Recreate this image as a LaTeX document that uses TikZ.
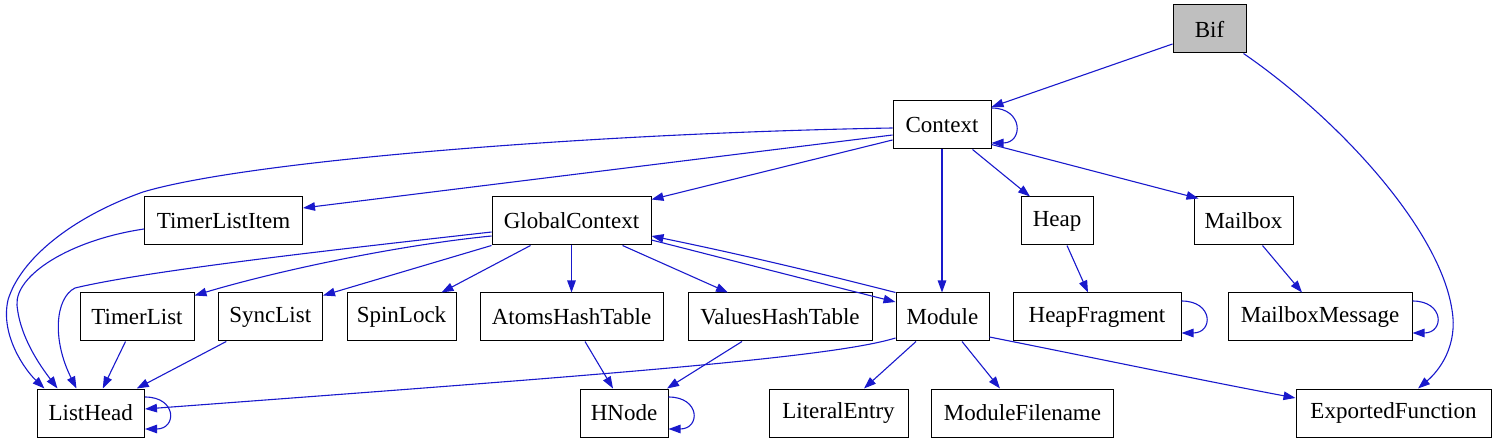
\documentclass[tikz,border=0pt]{standalone}
\usepackage{fontspec}
\setmainfont{Liberation Serif}
\usetikzlibrary{arrows.meta}
\definecolor{edgeblue}{RGB}{25,25,204}
\definecolor{bifgray}{RGB}{191,191,191}
\begin{document}
\begin{tikzpicture}[x=1pt,y=-1pt,
  box/.style={draw, line width=1pt, minimum height=48pt, inner sep=0pt, font=\fontsize{23}{27}\selectfont},
  edge/.style={draw=edgeblue, line width=1.1pt, -{Triangle[length=12pt,width=8.5pt]}},
  loopedge/.style={edge}
]
\useasboundingbox (0,0) rectangle (1496,443);
% nodes
\node[box, fill=bifgray, minimum width=73pt] (bif) at (1209.5,29) {Bif};
\node[box, minimum width=98pt] (ctx) at (942,125) {Context};
\node[box, minimum width=158pt] (tli) at (223.5,221) {TimerListItem};
\node[box, minimum width=159pt] (gc) at (571.5,221) {GlobalContext};
\node[box, minimum width=72pt] (heap) at (1057,221) {Heap};
\node[box, minimum width=99pt] (mb) at (1243.5,221) {Mailbox};
\node[box, minimum width=114pt] (tl) at (137,317) {TimerList};
\node[box, minimum width=104.5pt] (sl) at (270.25,317) {SyncList};
\node[box, minimum width=109pt] (spin) at (401.5,317) {SpinLock};
\node[box, minimum width=183pt] (aht) at (571.5,317) {AtomsHashTable};
\node[box, minimum width=184pt] (vht) at (780,317) {ValuesHashTable};
\node[box, minimum width=93pt] (mod) at (942.5,317) {Module};
\node[box, minimum width=168pt] (hf) at (1097,317) {HeapFragment};
\node[box, minimum width=184pt] (mm) at (1320,317) {MailboxMessage};
\node[box, minimum width=107.5pt] (lh) at (90.75,413) {ListHead};
\node[box, minimum width=88pt] (hn) at (624,413) {HNode};
\node[box, minimum width=139pt] (le) at (838.5,413) {LiteralEntry};
\node[box, minimum width=182pt] (mf) at (1022.5,413) {ModuleFilename};
\node[box, minimum width=195pt] (ef) at (1393.5,413) {ExportedFunction};
% edges from Bif
\draw[edge] ([yshift=-15pt]bif.west) -- ([yshift=18pt]ctx.east);
\draw[edge] ([xshift=-3pt]bif.south east) .. controls (1340,120) and (1440,230) .. (1452,310)
  .. controls (1458,345) and (1440,370) .. ([xshift=24.5pt]ef.north);
% edges from Context
\draw[edge] ([yshift=17pt]ctx.east) .. controls +(32,0) and +(32,0) .. ([yshift=-18pt]ctx.east);
\draw[edge] ([yshift=-3pt]ctx.west) .. controls (600,133) and (250,160) .. (143,192)
  .. controls (70,218) and (20,260) .. (8,300) .. controls (0,335) and (25,370) .. ([xshift=8pt]lh.north west);
\draw[edge] ([yshift=-10pt]ctx.west) -- ([yshift=13pt]tli.east);
\draw[edge] ([yshift=-15pt]ctx.west) -- ([yshift=-3pt]gc.north east);
\draw[edge] ([xshift=-19pt]ctx.south east) -- ([xshift=-27pt]heap.north);
\draw[edge] ([yshift=5pt]ctx.south east) -- ([xshift=5pt,yshift=-2pt]mb.north west);
\draw[edge] (ctx.south) -- (ctx.south |- mod.north);
% TimerListItem
\draw[edge] ([yshift=-8pt]tli.west) .. controls (70,240) and (15,275) .. (17,305)
  .. controls (20,340) and (45,372) .. ([xshift=21pt]lh.north west);
% GlobalContext
\draw[edge] ([yshift=-11pt]gc.west) .. controls (350,248) and (150,270) .. (75,288)
  .. controls (55,298) and (52,340) .. ([xshift=40pt]lh.north west);
\draw[edge] ([yshift=-15pt]gc.west) .. controls (400,245) and (280,270) .. ([yshift=-3pt]tl.north east);
\draw[edge] (gc.south west) -- ([yshift=-3pt]sl.north east);
\draw[edge] ([xshift=-41pt]gc.south) -- ([xshift=40pt]spin.north);
\draw[edge] (gc.south) -- (aht.north);
\draw[edge] ([xshift=51pt]gc.south) -- ([xshift=-52pt]vht.north);
\draw[edge] ([yshift=-19pt]gc.east) .. controls (730,260) and (820,283) .. ([yshift=15pt]mod.west);
% Module
\draw[edge] (mod.north west) .. controls (800,268) and (720,250) .. ([yshift=-15pt]gc.east);
\draw[edge] ([yshift=-21pt]mod.west) .. controls (830,358) and (600,375) .. ([yshift=4pt]lh.east);
\draw[edge] ([xshift=-26.5pt]mod.south) -- ([xshift=25.5pt]le.north);
\draw[edge] ([xshift=19.5pt]mod.south) -- ([xshift=-22.5pt]mf.north);
\draw[edge] ([yshift=-20pt]mod.east) .. controls (1090,357) and (1200,380) .. ([yshift=15pt]ef.west);
% Heap, Mailbox
\draw[edge] ([xshift=10pt]heap.south) -- ([xshift=-9pt]hf.north);
\draw[edge] ([yshift=16pt]hf.east) .. controls +(32,0) and +(32,0) .. ([yshift=-16pt]hf.east);
\draw[edge] ([xshift=19pt]mb.south) -- ([xshift=-18pt]mm.north);
\draw[edge] ([yshift=16pt]mm.east) .. controls +(32,0) and +(32,0) .. ([yshift=-16pt]mm.east);
% lists
\draw[edge] ([xshift=-11.5pt]tl.south) -- ([xshift=12pt]lh.north);
\draw[edge] ([xshift=-44pt]sl.south) -- ([xshift=46pt]lh.north);
\draw[edge] ([yshift=16pt]lh.east) .. controls +(32,0) and +(32,0) .. ([yshift=-16pt]lh.east);
% hash tables
\draw[edge] ([xshift=13.5pt]aht.south) -- ([xshift=-11pt]hn.north);
\draw[edge] ([xshift=-38pt]vht.south) -- ([xshift=43pt]hn.north);
\draw[edge] ([yshift=16pt]hn.east) .. controls +(32,0) and +(32,0) .. ([yshift=-16pt]hn.east);
\end{tikzpicture}
\end{document}
